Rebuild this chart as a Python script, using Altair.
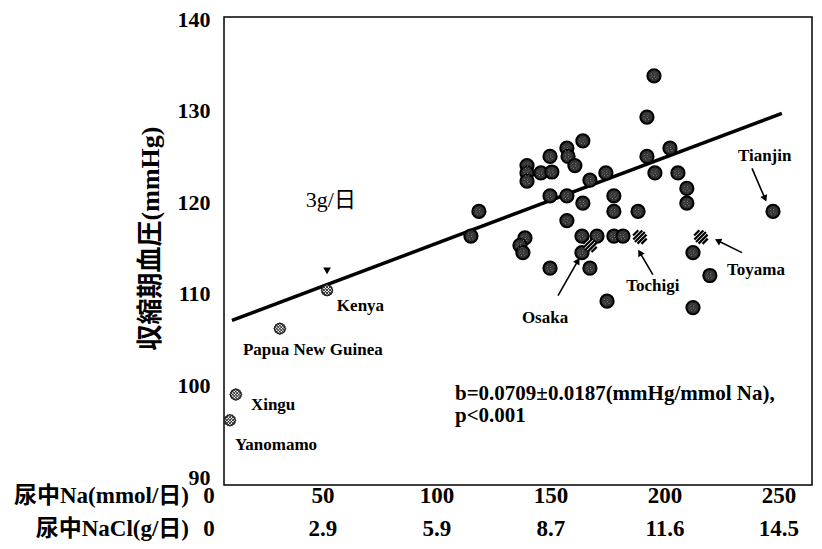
import math
import altair as alt
import pandas as pd

# ---------------- data ----------------
na_dark = [195.2, 192.1, 164.0, 157.0, 157.5, 149.6, 160.5, 139.5, 139.5, 139.5,
           145.6, 150.4, 167.1, 174.1, 192.1, 195.6, 202.2, 205.7, 209.6, 209.6,
           118.4, 114.9, 149.6, 157.0, 164.0, 157.0, 177.6, 177.6, 188.2, 138.6,
           136.4, 137.7, 163.6, 170.2, 177.6, 181.6, 163.6, 167.1, 149.6, 212.3,
           247.4, 219.7, 174.6, 212.3]
bp_dark = [133.8, 129.3, 126.7, 125.9, 125.0, 125.0, 124.0, 124.0, 123.2, 122.3,
           123.2, 123.3, 122.4, 123.2, 125.0, 123.2, 125.9, 123.2, 121.5, 119.9,
           119.0, 116.3, 120.7, 120.7, 119.9, 118.0, 120.7, 119.0, 119.0, 116.1,
           115.3, 114.5, 116.3, 116.3, 116.3, 116.3, 114.5, 112.8, 112.8, 114.5,
           119.0, 112.0, 109.2, 108.5]

hatch_names = ["Osaka", "Tochigi", "Toyama"]
na_hatch = [167.1, 189.0, 215.8]
bp_hatch = [115.3, 116.2, 116.2]

low_names = ["Kenya", "Papua New Guinea", "Xingu", "Yanomamo"]
na_low = [51.8, 31.1, 11.8, 9.2]
bp_low = [110.4, 106.2, 99.0, 96.2]

na_line = [10.1, 251.3]
bp_line = [107.1, 129.7]

na_marker = [51.8]
bp_marker = [112.5]

label_left_text = ["Kenya", "Papua New Guinea", "Xingu", "Yanomamo", "Toyama", "Tianjin"]
label_left_na = [56.1, 14.9, 18.4, 11.4, 227.2, 232.0]
label_left_bp = [108.7, 103.9, 97.9, 93.5, 112.6, 125.1]

label_center_text = ["Osaka", "Tochigi"]
label_center_na = [147.4, 194.7]
label_center_bp = [107.4, 110.9]

arrow_na_from = [238.2, 233.8, 194.7, 153.1]
arrow_bp_from = [123.7, 114.5, 112.1, 109.8]
arrow_na_to = [243.9, 223.2, 189.0, 161.8]
arrow_bp_to = [120.4, 115.8, 114.5, 113.6]

stats_text = ["b=0.0709±0.0187(mmHg/mmol Na),", "p<0.001"]
stats_na = [107.9, 107.9]
stats_bp = [99.1, 96.7]

dose_text = ["3g/日"]
dose_na = [53.5]
dose_bp = [120.2]

na_ticks = [0, 50, 100, 150, 200, 250]
nacl_ticks = ["0", "2.9", "5.9", "8.7", "11.6", "14.5"]
row_titles = ["尿中Na(mmol/日)", "尿中NaCl(g/日)"]
y_ticks = [90, 100, 110, 120, 130, 140]

# ---------------- layout ----------------
W, H = 588, 468
X_DOM = [6.6, 264.5]
Y_DOM = [89.13, 140.22]
FONT = "Liberation Serif, Noto Sans CJK JP"
px_x = W / (X_DOM[1] - X_DOM[0])
px_y = H / (Y_DOM[1] - Y_DOM[0])
ROW1_Y, ROW2_Y = 479, 512


def hatch_path(cs, both=False):
    parts = []
    for c in cs:
        h = math.sqrt(max(0.0, 1 - c * c / 2.0)) / math.sqrt(2)
        m = c / 2.0
        parts.append(f"M{m + h:.3f},{m - h:.3f}L{m - h:.3f},{m + h:.3f}")
        if both:
            parts.append(f"M{-(m + h):.3f},{m - h:.3f}L{-(m - h):.3f},{m + h:.3f}")
    return "".join(parts)


STRIPES = hatch_path([-1.2, -0.6, 0.0, 0.6, 1.2])
CHECKS = hatch_path([-1.0, -0.5, 0.0, 0.5, 1.0], both=True)
SPECKLE = ("M-0.5,-0.2L-0.2,-0.5M0.05,-0.25L0.35,-0.55M-0.55,0.25L-0.2,-0.05"
           "M0.0,0.15L0.35,-0.15M-0.3,0.5L0.0,0.25M0.25,0.45L0.55,0.15")

xscale = alt.Scale(domain=X_DOM, nice=False, zero=False)
yscale = alt.Scale(domain=Y_DOM, nice=False, zero=False)
xdef = alt.X("na:Q", scale=xscale, axis=None)
ydef = alt.Y("bp:Q", scale=yscale,
             axis=alt.Axis(values=y_ticks, grid=False, ticks=False, domain=False,
                           labelFont=FONT, labelFontSize=22, labelFontWeight="bold",
                           labelColor="black", labelPadding=14,
                           title="収縮期血圧(mmHg)", titleFont=FONT, titleFontSize=26,
                           titleFontWeight="bold", titleColor="black",
                           titleAngle=270, titleAlign="center", titleBaseline="middle",
                           titleX=-74, titleY=221))

dark = pd.DataFrame({"na": na_dark, "bp": bp_dark})
hatch = pd.DataFrame({"na": na_hatch, "bp": bp_hatch, "name": hatch_names})
low = pd.DataFrame({"na": na_low, "bp": bp_low, "name": low_names})
line = pd.DataFrame({"na": na_line, "bp": bp_line})
marker = pd.DataFrame({"na": na_marker, "bp": bp_marker})
lab_l = pd.DataFrame({"na": label_left_na, "bp": label_left_bp, "t": label_left_text})
lab_c = pd.DataFrame({"na": label_center_na, "bp": label_center_bp, "t": label_center_text})
stats = pd.DataFrame({"na": stats_na, "bp": stats_bp, "t": stats_text})
dose = pd.DataFrame({"na": dose_na, "bp": dose_bp, "t": dose_text})

ang = []
for x1, y1, x2, y2 in zip(arrow_na_from, arrow_bp_from, arrow_na_to, arrow_bp_to):
    dx = (x2 - x1) * px_x
    dy = -(y2 - y1) * px_y
    ang.append(math.degrees(math.atan2(dx, -dy)) % 360)
arrows = pd.DataFrame({"na": arrow_na_from, "bp": arrow_bp_from,
                       "na2": arrow_na_to, "bp2": arrow_bp_to, "ang": ang})
heads = pd.DataFrame({"na": arrow_na_to, "bp": arrow_bp_to, "ang": ang})
xt = pd.DataFrame({"na": na_ticks, "nacl": nacl_ticks})
rt1 = pd.DataFrame({"t": [row_titles[0]]})
rt2 = pd.DataFrame({"t": [row_titles[1]]})

reg = alt.Chart(line).mark_line(color="black", strokeWidth=3.5).encode(x=xdef, y=ydef)

dark_pts = alt.Chart(dark).mark_point(shape="circle", filled=True, fill="#333333",
                                      stroke="black", strokeWidth=2, size=175,
                                      opacity=1).encode(x=xdef, y=ydef)
dark_tex = alt.Chart(dark).mark_point(shape=SPECKLE, filled=False, stroke="#9a9a9a",
                                      strokeWidth=0.9, strokeDash=[1.2, 1.2],
                                      size=150, opacity=1).encode(x=xdef, y=ydef)

hatch_bg = alt.Chart(hatch).mark_point(shape="circle", filled=True, fill="white",
                                       strokeWidth=0, size=150, opacity=1
                                       ).encode(x=xdef, y=ydef)
hatch_fg = alt.Chart(hatch).mark_point(shape=STRIPES, filled=False, stroke="black",
                                       strokeWidth=2.2, size=196, opacity=1
                                       ).encode(x=xdef, y=ydef)

low_bg = alt.Chart(low).mark_point(shape="circle", filled=True, fill="white",
                                   stroke="#222", strokeWidth=1.3, size=113, opacity=1
                                   ).encode(x=xdef, y=ydef)
low_fg = alt.Chart(low).mark_point(shape=CHECKS, filled=False, stroke="#222",
                                   strokeWidth=1.0, size=144, opacity=1
                                   ).encode(x=xdef, y=ydef)

tri = alt.Chart(marker).mark_point(shape="triangle-down", filled=True, fill="black",
                                   size=60, opacity=1).encode(x=xdef, y=ydef)

arrow_lines = alt.Chart(arrows).mark_rule(color="black", strokeWidth=1.6).encode(
    x=xdef, y=ydef, x2="na2:Q", y2="bp2:Q")
arrow_heads = alt.Chart(heads).mark_point(shape="triangle-up", filled=True,
                                          fill="black", size=55, opacity=1).encode(
    x=xdef, y=ydef, angle=alt.Angle("ang:Q", scale=None))

txt_l = alt.Chart(lab_l).mark_text(align="left", baseline="middle", font=FONT,
                                   fontSize=17, fontWeight="bold", color="black"
                                   ).encode(x=xdef, y=ydef, text="t:N")
txt_c = alt.Chart(lab_c).mark_text(align="center", baseline="middle", font=FONT,
                                   fontSize=17, fontWeight="bold", color="black"
                                   ).encode(x=xdef, y=ydef, text="t:N")
txt_stats = alt.Chart(stats).mark_text(align="left", baseline="middle", font=FONT,
                                       fontSize=21, fontWeight="bold", color="black"
                                       ).encode(x=xdef, y=ydef, text="t:N")
txt_dose = alt.Chart(dose).mark_text(align="center", baseline="middle", font=FONT,
                                     fontSize=22, color="black"
                                     ).encode(x=xdef, y=ydef, text="t:N")

xt_na = alt.Chart(xt).mark_text(align="center", baseline="middle", font=FONT,
                                fontSize=23, fontWeight="bold", color="black"
                                ).encode(x=xdef, y=alt.value(ROW1_Y), text="na:N")
xt_nacl = alt.Chart(xt).mark_text(align="center", baseline="middle", font=FONT,
                                  fontSize=23, fontWeight="bold", color="black"
                                  ).encode(x=xdef, y=alt.value(ROW2_Y), text="nacl:N")
row_1 = alt.Chart(rt1).mark_text(align="right", baseline="middle", font=FONT,
                                 fontSize=23, fontWeight="bold", color="black"
                                 ).encode(x=alt.value(-35), y=alt.value(ROW1_Y), text="t:N")
row_2 = alt.Chart(rt2).mark_text(align="right", baseline="middle", font=FONT,
                                 fontSize=23, fontWeight="bold", color="black"
                                 ).encode(x=alt.value(-35), y=alt.value(ROW2_Y), text="t:N")

chart = alt.layer(
    reg, dark_pts, dark_tex, hatch_bg, hatch_fg, low_bg, low_fg, tri,
    arrow_lines, arrow_heads, txt_l, txt_c, txt_stats, txt_dose,
    xt_na, xt_nacl, row_1, row_2
).properties(
    width=W, height=H,
    padding={"left": 216, "top": 9, "right": 2, "bottom": 56},
    autosize=alt.AutoSizeParams(type="none"),
    background="white",
).configure_view(stroke="black", strokeWidth=1.5)

chart.save("out.html", embed_options={"renderer": "svg", "actions": False})
